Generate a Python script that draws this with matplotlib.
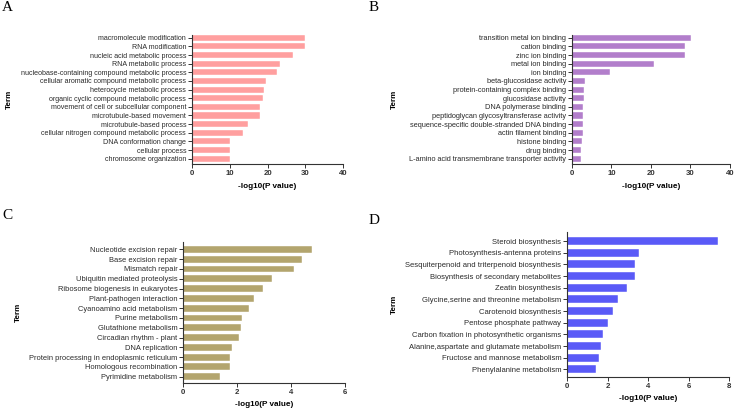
import matplotlib
matplotlib.use("Agg")
from matplotlib import pyplot as plt

plt.rcParams['font.family'] = ['Liberation Sans', 'DejaVu Sans']

# panel A - GO biological process
terms_a = ["macromolecule modification", "RNA modification", "nucleic acid metabolic process",
           "RNA metabolic process", "nucleobase-containing compound metabolic process",
           "cellular aromatic compound metabolic process", "heterocycle metabolic process",
           "organic cyclic compound metabolic process", "movement of cell or subcellular component",
           "microtubule-based movement", "microtubule-based process",
           "cellular nitrogen compound metabolic process", "DNA conformation change",
           "cellular process", "chromosome organization"]
values_a = [30.0, 30.0, 26.8, 23.2, 22.4, 19.6, 19.2, 18.7, 17.9, 17.9, 14.8, 13.5, 10.15, 10.1, 10.0]

# panel B - GO molecular function
terms_b = ["transition metal ion binding", "cation binding", "zinc ion binding", "metal ion binding",
           "ion binding", "beta-glucosidase activity", "protein-containing complex binding",
           "glucosidase activity", "DNA polymerase binding", "peptidoglycan glycosyltransferase activity",
           "sequence-specific double-stranded DNA binding", "actin filament binding",
           "histone binding", "drug binding", "L-amino acid transmembrane transporter activity"]
values_b = [30.1, 28.7, 28.6, 20.7, 9.6, 3.3, 3.1, 3.05, 2.9, 2.9, 2.8, 2.75, 2.5, 2.4, 2.2]

# panel C - KEGG
terms_c = ["Nucleotide excision repair", "Base excision repair", "Mismatch repair",
           "Ubiquitin mediated proteolysis", "Ribosome biogenesis in eukaryotes",
           "Plant-pathogen interaction", "Cyanoamino acid metabolism", "Purine metabolism",
           "Glutathione metabolism", "Circadian rhythm - plant", "DNA replication",
           "Protein processing in endoplasmic reticulum", "Homologous recombination",
           "Pyrimidine metabolism"]
values_c = [4.78, 4.42, 4.12, 3.28, 2.95, 2.62, 2.43, 2.17, 2.16, 2.08, 1.81, 1.75, 1.73, 1.38]

# panel D - KEGG
terms_d = ["Steroid biosynthesis", "Photosynthesis-antenna proteins",
           "Sesquiterpenoid and triterpenoid biosynthesis", "Biosynthesis of secondary metabolites",
           "Zeatin biosynthesis", "Glycine,serine and threonine metabolism", "Carotenoid biosynthesis",
           "Pentose phosphate pathway", "Carbon fixation in photosynthetic organisms",
           "Alanine,aspartate and glutamate metabolism", "Fructose and mannose metabolism",
           "Phenylalanine metabolism"]
values_d = [7.44, 3.52, 3.34, 3.32, 2.93, 2.49, 2.26, 2.02, 1.75, 1.65, 1.55, 1.43]

W, H = 735, 413
fig = plt.figure(figsize=(W / 100, H / 100), dpi=100)


def px_axes(left, right, top, bottom):
    # axes rectangle given in pixel coordinates from top-left
    return fig.add_axes([left / W, 1 - bottom / H, (right - left) / W, (bottom - top) / H])


def bar_panel(ax, terms, values, color, xmax, xstep, pad_top, pad_bot, letter, label_x, fs):
    n = len(terms)
    ax.barh(range(n), values, height=0.7, color=color, edgecolor='white', linewidth=0.3)
    ax.set_ylim(n - 1 + pad_bot, -pad_top)
    ax.set_xlim(0, xmax)
    ax.set_xticks(range(0, xmax + 1, xstep))
    ax.set_yticks(range(n))
    ax.set_yticklabels(terms, fontsize=fs)
    for t in ax.get_xticklabels():
        t.set_fontsize(5.6)
        t.set_fontweight('bold')
    ax.spines['top'].set_visible(False)
    ax.spines['right'].set_visible(False)
    for s in ['left', 'bottom']:
        ax.spines[s].set_linewidth(0.8)
        ax.spines[s].set_color('#333333')
    ax.tick_params(axis='both', direction='out', length=3, width=0.7, pad=1.2, colors='#333333')
    ax.tick_params(axis='y', labelcolor='#2a2a2a')
    ax.set_xlabel("-log10(P value)", fontsize=5.9, fontweight='bold', labelpad=4)
    ax.set_ylabel("Term", fontsize=5.9, fontweight='bold')
    ax.yaxis.set_label_coords(label_x, 0.5)
    ax.text(letter[0] / W, 1 - letter[1] / H, letter[2], transform=fig.transFigure,
            fontsize=11, family='Liberation Serif', va='top', ha='left')


ax_a = px_axes(192, 343, 34.7, 164.3)
bar_panel(ax_a, terms_a, values_a, '#FF9F9F', 40, 10, 0.35, 0.65, (2, 1, 'A'), (13 - 192) / 151, 5.15)

ax_b = px_axes(572, 729.7, 34.7, 164.3)
bar_panel(ax_b, terms_b, values_b, '#B27ECB', 40, 10, 0.35, 0.65, (369, 1, 'B'), (398 - 572) / 157.7, 5.3)

ax_c = px_axes(183.3, 344.7, 241.7, 382.7)
bar_panel(ax_c, terms_c, values_c, '#B3A56E', 6, 2, 0.78, 0.61, (2, 209, 'C'), (22 - 183.3) / 161.4, 5.45)

ax_d = px_axes(567.3, 729.3, 232.3, 376.7)
bar_panel(ax_d, terms_d, values_d, '#5A5AF7', 8, 2, 0.75, 0.63, (369, 214, 'D'), (398 - 567.3) / 162, 5.5)

fig.savefig("out.png", dpi=100)
